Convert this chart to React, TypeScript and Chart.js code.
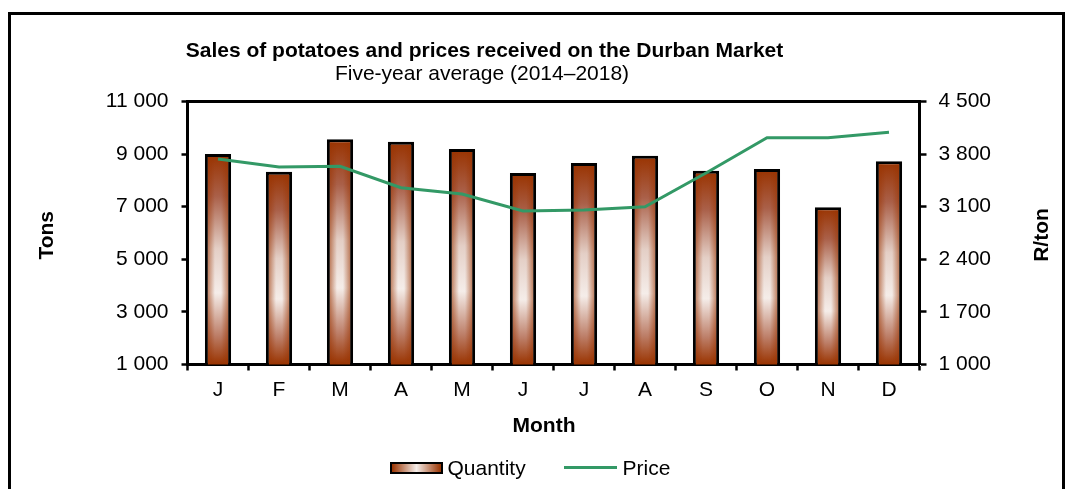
import React, { useEffect, useRef } from 'react';
import { Chart, registerables } from 'chart.js';

Chart.register(...registerables);

const months = ['J', 'F', 'M', 'A', 'M', 'J', 'J', 'A', 'S', 'O', 'N', 'D'];
const quantity = [9000, 8330, 9560, 9470, 9190, 8280, 8660, 8940, 8370, 8430, 6980, 8730];
const price = [3735, 3629, 3638, 3353, 3269, 3043, 3056, 3100, 3549, 4019, 4019, 4091];
const tonsTicks = [1000, 3000, 5000, 7000, 9000, 11000];
const priceTicks = [1000, 1700, 2400, 3100, 3800, 4500];
const seriesNames = ['Quantity', 'Price'];
const titleText = 'Sales of potatoes and prices received on the Durban Market';
const subtitleText = 'Five-year average (2014–2018)';
const leftTitle = 'Tons';
const rightTitle = 'R/ton';
const xTitle = 'Month';

const FONT = '"Liberation Sans", Arial, Helvetica, sans-serif';
const GREEN = '#339966';
const BROWN = '#993300';

const fmt = (v: number | string) => String(v).replace(/\B(?=(\d{3})+(?!\d))/g, ' ');

const textPlugin = {
  id: 'texts',
  afterDraw(chart: any) {
    const c = chart.ctx as CanvasRenderingContext2D;
    c.save();
    c.fillStyle = '#000';
    c.textAlign = 'center';
    c.textBaseline = 'alphabetic';
    c.font = `bold 21px ${FONT}`;
    c.fillText(titleText, 473.5, 41.5);
    c.font = `21px ${FONT}`;
    c.fillText(subtitleText, 471, 65);
    c.font = `bold 21px ${FONT}`;
    c.fillText(xTitle, 533, 417);
    c.save();
    c.translate(42.3, 220.3);
    c.rotate(-Math.PI / 2);
    c.fillText(leftTitle, 0, 0);
    c.restore();
    c.save();
    c.translate(1037, 220);
    c.rotate(-Math.PI / 2);
    c.fillText(rightTitle, 0, 0);
    c.restore();
    c.restore();
  },
};

const framePlugin = {
  id: 'frameTop',
  beforeDatasetsDraw(chart: any) {
    const { ctx, chartArea } = chart;
    ctx.save();
    ctx.strokeStyle = '#000';
    ctx.lineWidth = 3;
    ctx.beginPath();
    ctx.moveTo(chartArea.left - 1.5, chartArea.top);
    ctx.lineTo(chartArea.right + 1.5, chartArea.top);
    ctx.stroke();
    ctx.restore();
  },
};

const barShadePlugin = {
  id: 'barShade',
  afterDatasetDraw(chart: any, args: any) {
    if (args.meta.type !== 'bar') return;
    const ctx = chart.ctx as CanvasRenderingContext2D;
    const area = chart.chartArea;
    const bw = 3;
    ctx.save();
    ctx.beginPath();
    ctx.rect(area.left, area.top, area.right - area.left, area.bottom - area.top);
    ctx.clip();
    for (const el of args.meta.data) {
      const left = el.x - el.width / 2 + bw;
      const right = el.x + el.width / 2 - bw;
      const top = Math.min(el.y, el.base) + bw;
      const bottom = Math.min(Math.max(el.y, el.base), area.bottom) - bw;
      if (right <= left || bottom <= top) continue;
      const g = ctx.createLinearGradient(left, 0, right, 0);
      g.addColorStop(0, 'rgba(153,51,0,0.55)');
      g.addColorStop(0.35, 'rgba(153,51,0,0)');
      g.addColorStop(0.65, 'rgba(153,51,0,0)');
      g.addColorStop(1, 'rgba(153,51,0,0.55)');
      ctx.fillStyle = g;
      ctx.fillRect(left, top, right - left, bottom - top);
    }
    ctx.restore();
  },
};

export default function App() {
  const ref = useRef<HTMLCanvasElement>(null);

  useEffect(() => {
    const canvas = ref.current;
    if (!canvas) return;
    const tickFont = { family: FONT, size: 21 };
    const chart = new Chart(canvas, {
      type: 'bar',
      data: {
        labels: months,
        datasets: [
          {
            type: 'bar',
            label: seriesNames[0],
            data: quantity,
            yAxisID: 'y',
            order: 2,
            borderColor: '#000',
            borderWidth: 3,
            borderSkipped: false,
            barPercentage: 0.43,
            categoryPercentage: 1,
            backgroundColor: (ctx: any) => {
              const chartRef = ctx.chart;
              const area = chartRef.chartArea;
              const ys = chartRef.scales?.y;
              if (!area || !ys || ctx.type !== 'data') return BROWN;
              const top = ys.getPixelForValue(ctx.raw);
              const bottom = ys.getPixelForValue(ys.min);
              const g = chartRef.ctx.createLinearGradient(0, top, 0, bottom);
              g.addColorStop(0, '#993300');
              g.addColorStop(0.2, '#aa6049');
              g.addColorStop(0.45, '#e4cfc6');
              g.addColorStop(0.66, '#f5ede9');
              g.addColorStop(0.86, '#bd7f69');
              g.addColorStop(1, '#993300');
              return g;
            },
          } as any,
          {
            type: 'line',
            label: seriesNames[1],
            data: price,
            yAxisID: 'y1',
            order: 1,
            borderColor: GREEN,
            backgroundColor: GREEN,
            borderWidth: 3,
            pointRadius: 0,
            tension: 0,
          } as any,
        ],
      },
      options: {
        responsive: false,
        animation: false,
        devicePixelRatio: 1,
        layout: { padding: { top: 86.5, left: 0, right: 0, bottom: 0 } },
        plugins: {
          legend: { display: false },
          title: { display: false },
          tooltip: { enabled: false },
        },
        scales: {
          x: {
            type: 'category',
            offset: true,
            grid: {
              display: true,
              offset: true,
              drawOnChartArea: false,
              drawTicks: true,
              tickLength: 6,
              tickWidth: 2.5,
              color: '#000',
              tickColor: '#000',
            },
            border: { display: true, color: '#000', width: 3 },
            ticks: { font: tickFont, color: '#000', padding: 7, maxRotation: 0, autoSkip: false },
            afterFit: (s: any) => {
              s.height = 124.5;
            },
          },
          y: {
            type: 'linear',
            position: 'left',
            min: 1000,
            max: 11000,
            beginAtZero: false,
            afterBuildTicks: (s: any) => {
              s.ticks = tonsTicks.map((v) => ({ value: v }));
            },
            ticks: { font: tickFont, color: '#000', padding: 13, callback: (v: any) => fmt(v) },
            grid: {
              display: true,
              drawOnChartArea: false,
              drawTicks: true,
              tickLength: 6,
              tickWidth: 2.5,
              color: '#000',
              tickColor: '#000',
            },
            border: { display: true, color: '#000', width: 3 },
            afterFit: (s: any) => {
              s.width = 176.5;
            },
          },
          y1: {
            type: 'linear',
            position: 'right',
            min: 1000,
            max: 4500,
            beginAtZero: false,
            afterBuildTicks: (s: any) => {
              s.ticks = priceTicks.map((v) => ({ value: v }));
            },
            ticks: { font: tickFont, color: '#000', padding: 12, callback: (v: any) => fmt(v) },
            grid: {
              display: true,
              drawOnChartArea: false,
              drawTicks: true,
              tickLength: 7,
              tickWidth: 2.5,
              color: '#000',
              tickColor: '#000',
            },
            border: { display: true, color: '#000', width: 3 },
            afterFit: (s: any) => {
              s.width = 142.5;
            },
          },
        },
      } as any,
      plugins: [textPlugin, framePlugin, barShadePlugin],
    });
    return () => chart.destroy();
  }, []);

  const legendText: React.CSSProperties = {
    position: 'absolute',
    fontFamily: FONT,
    fontSize: 21,
    lineHeight: '21px',
    color: '#000',
    whiteSpace: 'nowrap',
  };

  return (
    <div
      style={{
        position: 'fixed',
        left: 0,
        top: 0,
        width: 1067,
        height: 489,
        overflow: 'hidden',
        background: '#fff',
      }}
    >
      <div
        style={{
          position: 'absolute',
          left: 8,
          top: 12,
          width: 1057,
          height: 600,
          border: '3px solid #000',
          boxSizing: 'border-box',
        }}
      />
      <canvas
        ref={ref}
        width={1051}
        height={474}
        style={{ position: 'absolute', left: 11, top: 15, width: 1051, height: 474, display: 'block' }}
      />
      <div
        style={{
          position: 'absolute',
          left: 389.5,
          top: 461.5,
          width: 53,
          height: 12.5,
          border: '2.5px solid #000',
          boxSizing: 'border-box',
          background: `linear-gradient(to right, ${BROWN}, #f5ede9 50%, ${BROWN})`,
        }}
      />
      <span style={{ ...legendText, left: 447.5, top: 457.2 }}>{seriesNames[0]}</span>
      <div style={{ position: 'absolute', left: 564, top: 466, width: 53, height: 3, background: GREEN }} />
      <span style={{ ...legendText, left: 622.5, top: 457.2 }}>{seriesNames[1]}</span>
    </div>
  );
}
